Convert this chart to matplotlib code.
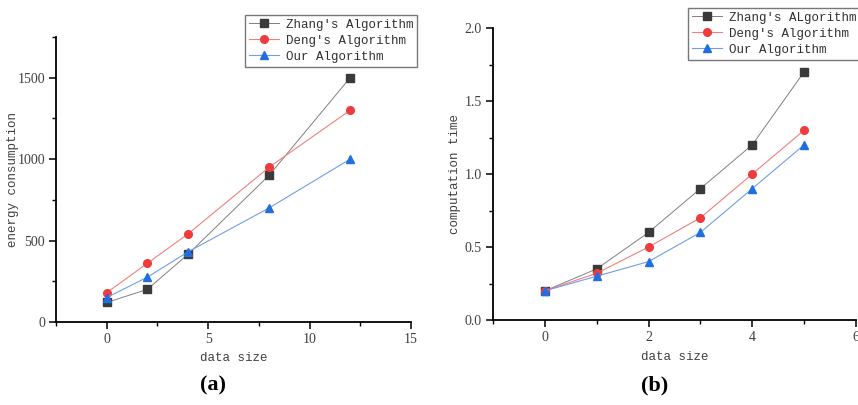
import matplotlib
matplotlib.use("Agg")
import matplotlib.pyplot as plt
from matplotlib.ticker import MultipleLocator

plt.rcParams['font.family'] = ['Liberation Mono', 'DejaVu Sans Mono']

# panel (a) data
size_a = [0, 2, 4, 8, 12]
zhang_a = [120, 200, 415, 900, 1500]
deng_a = [180, 360, 540, 950, 1300]
our_a = [150, 275, 430, 700, 1000]

# panel (b) data
size_b = [0, 1, 2, 3, 4, 5]
zhang_b = [0.2, 0.35, 0.6, 0.9, 1.2, 1.7]
deng_b = [0.2, 0.32, 0.5, 0.7, 1.0, 1.3]
our_b = [0.2, 0.3, 0.4, 0.6, 0.9, 1.2]

labels_a = ["Zhang's Algorithm", "Deng's Algorithm", "Our Algorithm"]
labels_b = ["Zhang's ALgorithm", "Deng's Algorithm", "Our Algorithm"]

gray = '#3a3a3a'
red = '#ee3b3b'
blue = '#1f6fe0'
txt = '#404040'

fig = plt.figure(figsize=(8.58, 4.05), dpi=100)
ax1 = fig.add_axes([56/858, 1 - 322/405, (411 - 56)/858, (322 - 37)/405])
ax2 = fig.add_axes([493/858, 1 - 320/405, (856 - 493)/858, (320 - 28)/405])


def style(ax):
    for s in ['top', 'right']:
        ax.spines[s].set_visible(False)
    for s in ['left', 'bottom']:
        ax.spines[s].set_linewidth(1.3)
    ax.tick_params(which='major', direction='out', length=5, width=1.1, labelsize=10,
                   labelcolor=txt, pad=3)
    ax.tick_params(which='minor', direction='out', length=3, width=1)
    for lab in ax.get_xticklabels() + ax.get_yticklabels():
        lab.set_family('Liberation Serif')


def draw(ax, x, ys, labels):
    ax.plot(x, ys[0], '-', color='#808080', lw=0.7, marker='s', ms=5.5,
            mfc=gray, mec=gray, label=labels[0])
    ax.plot(x, ys[1], '-', color='#f08080', lw=0.8, marker='o', ms=5.5,
            mfc=red, mec=red, label=labels[1])
    ax.plot(x, ys[2], '-', color='#6f9fe8', lw=0.8, marker='^', ms=6,
            mfc=blue, mec=blue, label=labels[2])


def legend(ax, x0, y0):
    leg = ax.legend(loc='upper left', bbox_to_anchor=(x0/858, 1 - y0/405), bbox_transform=fig.transFigure,
                    fontsize=9, frameon=True, fancybox=False, borderpad=0.3, labelspacing=0.32,
                    handlelength=2.4, handletextpad=0.55, borderaxespad=0)
    leg.get_frame().set_edgecolor('#555555')
    leg.get_frame().set_linewidth(1)
    for t in leg.get_texts():
        t.set_color('#303030')


draw(ax1, size_a, [zhang_a, deng_a, our_a], labels_a)
ax1.set_xlim(-2.5, 15)
ax1.set_ylim(0, 1750)
ax1.xaxis.set_major_locator(MultipleLocator(5))
ax1.xaxis.set_minor_locator(MultipleLocator(2.5))
ax1.yaxis.set_major_locator(MultipleLocator(500))
ax1.yaxis.set_minor_locator(MultipleLocator(250))
style(ax1)
ax1.set_xlabel('data size', fontsize=9, color=txt)
ax1.set_ylabel('energy consumption', fontsize=9, color=txt)
ax1.xaxis.set_label_coords(0.5, -0.105)
ax1.yaxis.set_label_coords(-0.104, 0.5)
legend(ax1, 245, 15)

draw(ax2, size_b, [zhang_b, deng_b, our_b], labels_b)
ax2.set_xlim(-1, 6)
ax2.set_ylim(0, 2.0)
ax2.xaxis.set_major_locator(MultipleLocator(2))
ax2.xaxis.set_minor_locator(MultipleLocator(1))
ax2.yaxis.set_major_locator(MultipleLocator(0.5))
ax2.yaxis.set_minor_locator(MultipleLocator(0.25))
ax2.yaxis.set_major_formatter(plt.FuncFormatter(lambda v, p: '%.1f' % v))
style(ax2)
ax2.set_xlabel('data size', fontsize=9, color=txt)
ax2.set_ylabel('computation time', fontsize=9, color=txt)
ax2.xaxis.set_label_coords(0.5, -0.106)
ax2.yaxis.set_label_coords(-0.088, 0.5)
legend(ax2, 688, 8)

fig.text(213/858, 1 - 385/405, '(a)', ha='center', va='center', fontsize=16,
         fontweight='bold', family='Liberation Serif')
fig.text(655/858, 1 - 385/405, '(b)', ha='center', va='center', fontsize=16,
         fontweight='bold', family='Liberation Serif')

fig.savefig('out.png', dpi=100)
